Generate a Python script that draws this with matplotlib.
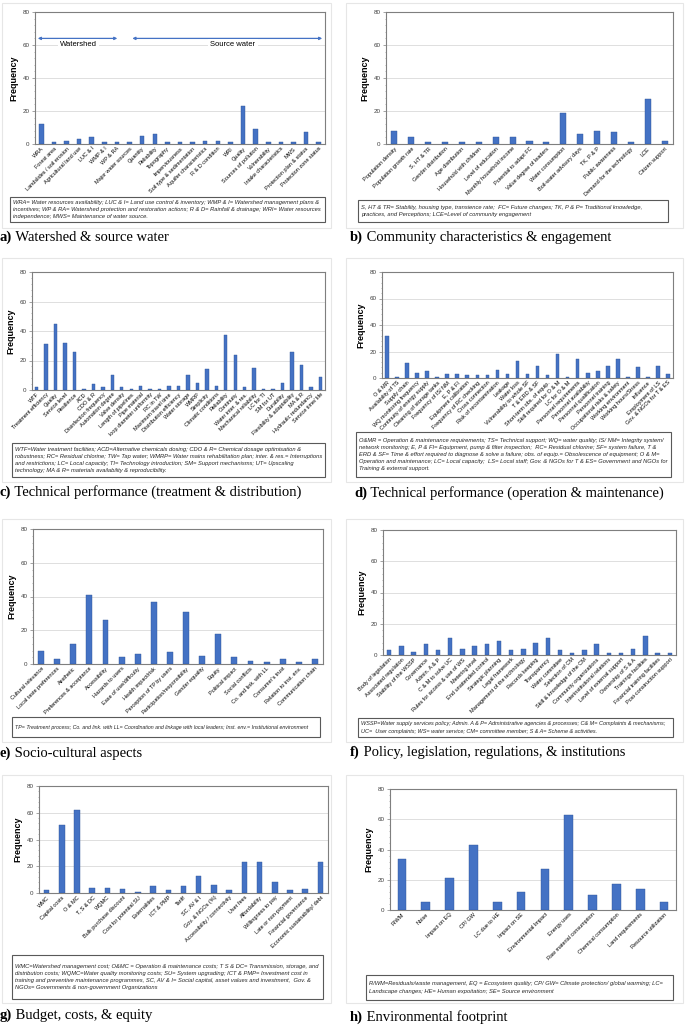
import matplotlib.pyplot as plt
from matplotlib.patches import Rectangle
from matplotlib.ticker import MultipleLocator

plt.rcParams['font.family'] = ['Liberation Sans', 'DejaVu Sans']

# ---- data -------------------------------------------------------------
a_cats = ["WRA", "Forest area", "Landslides / soil erosion", "Agricultural land use", "LUC & I",
          "WMP & I", "WP & RA", "Major water sources", "Quantity", "Reliability", "Topography",
          "Imperviousness", "Soil type & sedimentation", "Aquifer characteristics", "R & D condition",
          "WRI", "Quality", "Sources of pollution", "Vulnerability", "Intake characteristics", "MWS",
          "Protection plan & status", "Protection zone status"]
a_vals = [12, 1, 2, 3, 4, 1, 1, 1, 5, 6, 1, 1, 1, 2, 2, 1, 23, 9, 1, 1, 1, 7, 1]

b_cats = ["Population density", "Population growth rate", "S, HT & TR", "Gender distribution",
          "Age distribution", "Household with children", "Level of education",
          "Monthly household income", "Potential to adapt FC", "Value degree of leaders",
          "Water consumption", "Boil-water advisory days", "TK, P & P", "Public awareness",
          "Demand for the technology", "LCE", "Citizen support"]
b_vals = [8, 4, 1, 1, 1, 1, 4, 4, 2, 1, 19, 6, 8, 7, 1, 27, 2]

c_cats = ["WTF", "Treatment efficiency", "Quality", "Service level", "Resilience", "ACD", "CDO & R",
          "Disinfection frequency", "Automation degree", "Valve density", "Length of pipelines",
          "Pipe material", "loop diameter uniformity", "RC in TW", "Maximum travel time",
          "Distribution efficiency", "Water storage", "WMRP", "Simplicity", "Climatic conditions",
          "Reliability", "Continuity", "Water inter. & res.", "Mechanical reliability", "LC for TI",
          "SM for UT", "Durability", "Flexibility & adaptability", "MA & R", "Hydraulic redundancy",
          "Service time/ life"]
c_vals = [2, 31, 45, 32, 26, 1, 4, 2, 10, 2, 1, 3, 1, 1, 3, 3, 10, 5, 14, 3, 37, 24, 2, 15, 1, 1,
          5, 26, 17, 2, 9]

d_cats = ["O & MR", "Availability of TS", "Supply chain", "WQ monitoring frequency",
          "Continuity of energy supply", "Cleaning of storage tanks", "Frequency of IS/ NM",
          "E, P & FI", "Equipment calibration", "Frequency of RC checking", "Cross connection",
          "Risk of recontamination", "Leakage", "Water loss", "Vulnerability to whole SF",
          "T & ERD & SF", "Short-term obs. of equip.", "Skill required for O & M", "LC for O & M",
          "Personnel requirements", "Personnel availability", "Personnel qualification",
          "Personnel training", "Occupational risks & safety", "Working environment",
          "Working hours/Stress", "Influence", "Employment of LS", "Gov. & NGOs for T & ES"]
d_vals = [32, 1, 11, 4, 5, 1, 3, 3, 2, 2, 2, 6, 3, 13, 3, 9, 2, 18, 1, 14, 4, 5, 9, 14, 1, 8, 1, 9, 3]

e_cats = ["Cultural relevance", "Local taste preferences", "Aesthetic", "Preferences & acceptance",
          "Accessibility", "Hazards to users", "Ease of use/difficulty", "Health impact/risk",
          "Perception of TP by users", "Participation/responsibility", "Gender equality", "Equity",
          "Political impact", "Social conflicts", "Co. and link. with LL", "Consumer's trust",
          "Relation to inst. env.", "Communication chain"]
e_vals = [8, 3, 12, 41, 26, 4, 6, 37, 7, 31, 5, 18, 4, 2, 1, 3, 1, 3]

f_cats = ["Body of legislation", "Associated regulation", "Stability of the WSSP", "Governance",
          "Admin. A & P", "C & M to solve UC", "Rules for access & use of WS", "Metering level",
          "End unattended control", "Strategic planning", "Legal framework",
          "Management of the technology", "Records keeping", "Transparency", "Water committee",
          "Selection of CM", "Skill & knowledge of the CM", "Community organizations",
          "Interinstitutional relations", "Level of external support", "Ownership of S & A",
          "Trainings facilities", "Financial training facilities", "Post-construction support"]
f_vals = [3, 6, 2, 7, 3, 11, 4, 6, 7, 9, 3, 4, 8, 11, 3, 1, 3, 7, 1, 1, 4, 12, 1, 1]

g_cats = ["WMC", "Capital costs", "O & MC", "T, S & DC", "WQMC", "Bulk purchase discount",
          "Cost for potential SU", "Externalities", "ICT & PMP", "Tariff", "SC, AV & I",
          "Gov. & NGOs (%)", "Accessibility / connectivity", "User fees", "Affordability",
          "Willingness to pay", "Late or non-payment", "Financial governance",
          "Economic sustainability/ debt"]
g_vals = [2, 51, 62, 4, 4, 3, 1, 5, 2, 5, 13, 6, 2, 23, 23, 8, 2, 3, 23]

h_cats = ["R/WM", "Noise", "Impact on EQ", "CP/ GW", "LC due to HE", "Impact on SE",
          "Environmental Impact", "Energy uses", "Raw material consumption",
          "Chemical consumption", "Land requirements", "Resource utilization"]
h_vals = [34, 5, 21, 43, 5, 12, 27, 63, 10, 17, 14, 5]

a_note = ("WRA= Water resources availability; LUC & I= Land use control & inventory; WMP & I= Watershed management plans &\n"
          "incentives; WP & RA= Watershed protection and restoration actions; R & D= Rainfall & drainage; WRI= Water resources\n"
          "independence; MWS= Maintenance of water source.")
b_note = ("S, HT & TR= Stability, housing type, transience rate;  FC= Future changes; TK, P & P= Traditional knowledge,\n"
          "practices, and Perceptions; LCE=Level of community engagement")
c_note = ("WTF=Water treatment facilities; ACD=Alternative chemicals dosing; CDO & R= Chemical dosage optimisation &\n"
          "robustness; RC= Residual chlorine; TW= Tap water; WMRP= Water mains rehabilitation plan; inter. & res.= Interruptions\n"
          "and restrictions; LC= Local capacity; TI= Technology introduction; SM= Support mechanisms; UT= Upscaling\n"
          "technology; MA & R= materials availability & reproducibility.")
d_note = ("O&MR = Operation & maintenance requirements; TS= Technical support; WQ= water quality; IS/ NM= Integrity system/\n"
          "network monitoring; E, P & FI= Equipment, pump & filter inspection;  RC= Residual chlorine; SF= system failure, T &\n"
          "ERD & SF= Time & effort required to diagnose & solve a failure; obs. of equip.= Obsolescence of equipment; O & M=\n"
          "Operation and maintenance; LC= Local capacity;  LS= Local staff; Gov. & NGOs for T & ES= Government and NGOs for\n"
          "Training & external support.")
e_note = ("TP= Treatment process; Co. and link. with LL= Coordination and linkage with local leaders; "
          "Inst. env.= Institutional environment")
f_note = ("WSSP=Water supply services policy; Admin. A & P= Administrative agencies & processes; C& M= Complaints & mechanisms;\n"
          "UC=  User complaints; WS= water service; CM= committee member; S & A= Scheme & activities.")
g_note = ("WMC=Watershed management cost; O&MC = Operation & maintenance costs; T S & DC= Transmission, storage, and\n"
          "distribution costs; WQMC=Water quality monitoring costs; SU= System upgrading; ICT & PMP= Investment cost in\n"
          "training and preventive maintenance programmes, SC, AV & I= Social capital, asset values and investment,  Gov. &\n"
          "NGOs= Governments & non-government Organizations")
h_note = ("R/WM=Residuals/waste management, EQ = Ecosystem quality; CP/ GW= Climate protection/ global warming; LC=\n"
          "Landscape changes; HE= Human expoitation; SE= Source environment")

# ---- layout (pixels: left, top, right, bottom) ---------------------------
W, H = 685, 1025
panels = [
    ("a)", "Watershed & source water", a_cats, a_vals, a_note, 4.15,
     (35, 12, 325, 144), (10, 197, 325, 222), (0, 237), (2, 3, 331, 228)),
    ("b)", "Community characteristics & engagement", b_cats, b_vals, b_note, 4.15,
     (386, 12, 673, 144), (358, 200, 668, 222), (350, 237), (346, 3, 683, 228)),
    ("c)", "Technical performance (treatment & distribution)", c_cats, c_vals, c_note, 4.15,
     (32, 272, 325, 390), (12, 443, 325, 477), (0, 492), (2, 258, 331, 482)),
    ("d)", "Technical performance (operation & maintenance)", d_cats, d_vals, d_note, 4.15,
     (382, 272, 673, 378), (356, 432, 671, 477), (354, 493), (346, 258, 683, 482)),
    ("e)", "Socio-cultural aspects", e_cats, e_vals, e_note, 3.8,
     (33, 529, 323, 664), (12, 717, 320, 737), (0, 753), (2, 519, 331, 742)),
    ("f)", "Policy, legislation, regulations, & institutions", f_cats, f_vals, f_note, 3.95,
     (383, 530, 676, 655), (358, 718, 673, 737), (350, 752), (346, 519, 683, 742)),
    ("g)", "Budget, costs, & equity", g_cats, g_vals, g_note, 4.15,
     (39, 786, 328, 893), (12, 955, 323, 999), (0, 1015), (2, 775, 331, 1003)),
    ("h)", "Environmental footprint", h_cats, h_vals, h_note, 4.15,
     (390, 789, 676, 910), (366, 975, 673, 1000), (350, 1017), (346, 775, 683, 1003)),
]

BLUE = "#4472C4"
GRID = "#d9d9d9"
FRAME = "#7f7f7f"


def rect(l, t, r, b):
    return [l / W, 1 - b / H, (r - l) / W, (b - t) / H]


fig = plt.figure(figsize=(W / 100, H / 100), dpi=100)
bg = fig.add_axes([0, 0, 1, 1])
bg.set_xlim(0, W)
bg.set_ylim(H, 0)
bg.axis("off")

axes = {}
for letter, title, cats, vals, note, nsize, abox, nbox, cap, outer in panels:
    # light outer frame of the panel
    bg.add_patch(Rectangle((outer[0], outer[1]), outer[2] - outer[0], outer[3] - outer[1],
                           fill=False, ec="#e6e6e6", lw=0.8))

    ax = fig.add_axes(rect(*abox))
    x = range(len(cats))
    ax.bar(x, vals, width=0.36, color=BLUE, edgecolor="#2f5597", linewidth=0.3, zorder=3)
    ax.set_xlim(-0.5, len(cats) - 0.5)
    ax.set_ylim(0, 80)
    ax.yaxis.set_major_locator(MultipleLocator(20))
    ax.yaxis.set_minor_locator(MultipleLocator(4))
    ax.grid(axis="y", color=GRID, lw=0.6, zorder=0)
    ax.set_xticks(list(x))
    ax.set_xticklabels(cats, rotation=45, ha="right", rotation_mode="anchor", fontsize=4)
    ax.tick_params(axis="x", length=0, pad=1.5)
    ax.tick_params(axis="y", which="major", labelsize=4.5, length=2, width=0.5,
                   colors=FRAME, labelcolor="#404040", pad=2)
    ax.tick_params(axis="y", which="minor", length=1, width=0.4, colors=FRAME)
    for s in ax.spines.values():
        s.set_color(FRAME)
        s.set_linewidth(0.8)
    ax.set_ylabel("Frequency", fontsize=6.5, fontweight="bold", labelpad=3)
    axes[letter] = ax

    # abbreviation note box
    bg.add_patch(Rectangle((nbox[0], nbox[1]), nbox[2] - nbox[0], nbox[3] - nbox[1],
                           fill=False, ec="#595959", lw=0.8))
    bg.text(nbox[0] + 3, (nbox[1] + nbox[3]) / 2, note, fontsize=nsize, style="italic",
            color="#262626", va="center", ha="left", linespacing=1.5)

    # caption: bold letter, then regular text
    t1 = bg.text(cap[0], cap[1], letter, family="Liberation Serif", fontweight="bold",
                 fontsize=10.5, va="center", ha="left")
    bg.annotate(" " + title, xy=(1, 0), xycoords=t1, va="bottom", ha="left",
                family="Liberation Serif", fontsize=10.5)

# watershed / source water arrows in panel a
axa = axes["a)"]
axa.annotate("", xy=(-0.5, 64), xytext=(6.25, 64),
             arrowprops=dict(arrowstyle="<|-|>", color=BLUE, lw=0.9, mutation_scale=4))
axa.annotate("", xy=(7.0, 64), xytext=(22.5, 64),
             arrowprops=dict(arrowstyle="<|-|>", color=BLUE, lw=0.9, mutation_scale=4))
axa.text(2.95, 60, "Watershed", fontsize=5.5, ha="center", va="center", zorder=4,
         bbox=dict(fc="white", ec="none", pad=1.5))
axa.text(15.2, 60, "Source water", fontsize=5.5, ha="center", va="center", zorder=4,
         bbox=dict(fc="white", ec="none", pad=1.5))

fig.savefig("out.png", dpi=100)
